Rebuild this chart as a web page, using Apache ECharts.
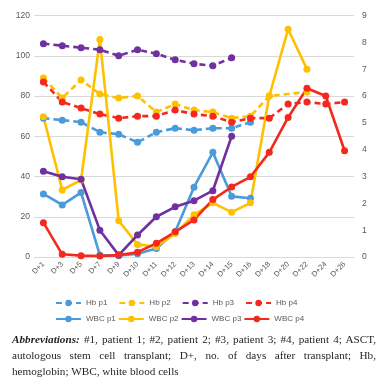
<!DOCTYPE html>
<html>
<head>
<meta charset="utf-8">
<script src="https://cdn.jsdelivr.net/npm/echarts@6/dist/echarts.min.js"></script>
<style>
html,body{margin:0;padding:0;background:#fff;}
#chart{position:absolute;left:0;top:0;width:386px;height:385px;}
#cap{position:absolute;left:12px;top:331px;width:364px;font-family:"Liberation Serif","DejaVu Serif",serif;font-size:11.2px;line-height:16px;color:#231f20;}
#cap div{white-space:nowrap;}
#cap .j{text-align:justify;text-align-last:justify;white-space:normal;}
</style>
</head>
<body>
<div id="chart"></div>
<div id="cap">
<div class="j"><b><i>Abbreviations:</i></b> #1, patient 1; #2, patient 2; #3, patient 3; #4, patient 4; ASCT,</div>
<div class="j">autologous stem cell transplant; D+, no. of days after transplant; Hb,</div>
<div>hemoglobin; WBC, white blood cells</div>
</div>
<script>
var categories = ["D+1","D+3","D+5","D+7","D+9","D+10","D+11","D+12","D+13","D+14","D+15","D+16","D+18","D+20","D+22","D+24","D+26"];
var leftTicks = [0,20,40,60,80,100,120];
var rightTicks = [0,1,2,3,4,5,6,7,8,9];

var hbP1 = [69,68,67,62,61,57,62,64,63,64,64,67,null,null,null,null,null];
var hbP2 = [89,79,88,81,79,80,72,76,73,72,69,70,80,null,82,null,null];
var hbP3 = [106,105,104,103,100,103,101,98,96,95,99,null,null,null,null,null,null];
var hbP4 = [87,77,74,71,69,70,70,73,71,70,67,69,69,76,77,76,77];

var wbcP1 = [2.35,1.94,2.4,0.07,0.05,0.12,0.32,0.94,2.6,3.9,2.26,2.19,null,null,null,null,null];
var wbcP2 = [5.23,2.5,2.87,8.11,1.35,0.47,0.38,0.88,1.57,2.02,1.67,2.02,6.0,8.49,7.0,null,null];
var wbcP3 = [3.2,2.99,2.9,1.0,0.07,0.82,1.5,1.87,2.1,2.47,4.5,null,null,null,null,null,null];
var wbcP4 = [1.28,0.1,0.05,0.04,0.07,0.18,0.51,0.94,1.38,2.14,2.61,2.99,3.9,5.2,6.29,6.0,3.96];

var BLUE = "#4A9BDB", YELLOW = "#FFC000", PURPLE = "#7030A0", RED = "#F5281E";

function mk(name, data, color, dashed, yIdx) {
  return {
    name: name, type: "line", data: data, yAxisIndex: yIdx,
    connectNulls: true, symbol: "circle", symbolSize: 7,
    itemStyle: {color: color},
    lineStyle: {color: color, width: 2.6, type: dashed ? [6, 4] : "solid"},
    emphasis: {disabled: true}
  };
}

var chart = echarts.init(document.getElementById("chart"), null, {renderer: "canvas"});
var legendText = {fontSize: 8, color: "#595959", fontFamily: "Liberation Sans, Arial, sans-serif"};
chart.setOption({
  animation: false,
  backgroundColor: "#fff",
  grid: {left: 34, right: 32, top: 15.5, bottom: 128, containLabel: false},
  legend: [
    {data: ["Hb p1","Hb p2","Hb p3","Hb p4"], left: 50, top: 294, itemWidth: 25, itemHeight: 8, itemGap: 11, textStyle: legendText},
    {data: ["WBC p1","WBC p2","WBC p3","WBC p4"], left: 50, top: 310, itemWidth: 25, itemHeight: 8, itemGap: 2, textStyle: legendText}
  ],
  xAxis: {
    type: "category", data: categories, boundaryGap: true,
    axisLine: {show: false}, axisTick: {show: false},
    axisLabel: {rotate: 45, fontSize: 7.5, color: "#595959", margin: 6, interval: 0, fontFamily: "Liberation Sans, Arial, sans-serif"}
  },
  yAxis: [
    {type: "value", min: leftTicks[0], max: leftTicks[leftTicks.length-1], interval: 20,
     axisLine: {show: false}, axisTick: {show: false},
     splitLine: {lineStyle: {color: "#d9d9d9", width: 1}},
     axisLabel: {fontSize: 8.5, color: "#595959", margin: 4, fontFamily: "Liberation Sans, Arial, sans-serif"}},
    {type: "value", min: rightTicks[0], max: rightTicks[rightTicks.length-1], interval: 1,
     axisLine: {show: false}, axisTick: {show: false}, splitLine: {show: false},
     axisLabel: {fontSize: 8.5, color: "#595959", margin: 8, fontFamily: "Liberation Sans, Arial, sans-serif"}}
  ],
  series: [
    mk("Hb p1", hbP1, BLUE, true, 0),
    mk("Hb p2", hbP2, YELLOW, true, 0),
    mk("Hb p3", hbP3, PURPLE, true, 0),
    mk("Hb p4", hbP4, RED, true, 0),
    mk("WBC p1", wbcP1, BLUE, false, 1),
    mk("WBC p2", wbcP2, YELLOW, false, 1),
    mk("WBC p3", wbcP3, PURPLE, false, 1),
    mk("WBC p4", wbcP4, RED, false, 1)
  ]
});
</script>
</body>
</html>
